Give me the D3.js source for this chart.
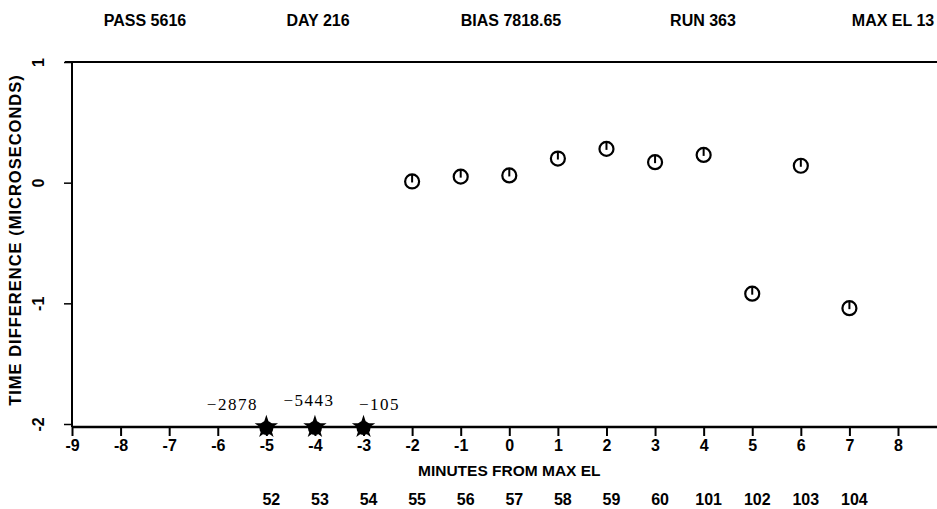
<!DOCTYPE html>
<html>
<head>
<meta charset="utf-8">
<script src="https://cdn.jsdelivr.net/npm/d3@7"></script>
<style>
  body { margin: 0; background: #fff; }
  svg { display: block; }
  .hdr, .ax text, .lbl { font-family: "Liberation Sans Narrow", "Arial Narrow", "Liberation Sans", sans-serif; font-weight: bold; }
</style>
</head>
<body>
<svg width="937" height="509"></svg>
<script>
// data
const minutes = [-2, -1, 0, 1, 2, 3, 4, 5, 6, 7]
const timeDiff = [0.01, 0.05, 0.06, 0.2, 0.28, 0.17, 0.23, -0.92, 0.14, -1.04]

// points off the bottom of the scale, value shown as text
const offMinutes = [-5, -4, -3]
const offValues = [-2878, -5443, -105]

// minute-of-hour row under the axis
const clockMinutes = [-5, -4, -3, -2, -1, 0, 1, 2, 3, 4, 5, 6, 7]
const clockLabels = ["52", "53", "54", "55", "56", "57", "58", "59", "60", "101", "102", "103", "104"]

const xTicks = d3.range(-9, 9)
const yTicks = [1, 0, -1, -2]

const header = [
  { text: "PASS 5616", x: 145 },
  { text: "DAY 216", x: 318 },
  { text: "BIAS 7818.65", x: 511 },
  { text: "RUN 363", x: 703 },
  { text: "MAX EL 13", x: 893 }
]

const svg = d3.select("svg")

const x = d3.scaleLinear().domain([-9, 8]).range([72, 898])
const y = d3.scaleLinear().domain([-2, 1]).range([424, 62])
const axisY = 427

// header line
svg.selectAll(".hdr")
  .data(header)
  .join("text")
  .attr("class", "hdr")
  .attr("x", d => d.x)
  .attr("y", 26)
  .attr("text-anchor", "middle")
  .attr("font-size", 16)
  .text(d => d.text)

// frame: top line
svg.append("line")
  .attr("x1", 65).attr("x2", 937)
  .attr("y1", y(1)).attr("y2", y(1))
  .attr("stroke", "#000").attr("stroke-width", 2)

// y axis
const yAxis = svg.append("g")
  .attr("class", "ax")
  .attr("transform", `translate(${x(-9)},0)`)
  .call(d3.axisLeft(y).tickValues(yTicks).tickSize(8).tickFormat(d => String(d)))
yAxis.select(".domain").attr("d", `M0,${y(1)}V${axisY}`).attr("stroke-width", 2)
yAxis.selectAll(".tick line").attr("stroke-width", 1.5)
yAxis.selectAll(".tick text")
  .attr("font-size", 16)
  .attr("x", 0).attr("dy", 0)
  .attr("text-anchor", "middle")
  .attr("transform", "translate(-32,0) rotate(-90)")
  .attr("dominant-baseline", "middle")

svg.append("text")
  .attr("class", "lbl")
  .attr("transform", "translate(21,240) rotate(-90)")
  .attr("text-anchor", "middle")
  .attr("font-size", 16.5)
  .attr("letter-spacing", 1)
  .text("TIME DIFFERENCE (MICROSECONDS)")

// x axis
const xAxis = svg.append("g")
  .attr("class", "ax")
  .attr("transform", `translate(0,${axisY})`)
  .call(d3.axisBottom(x).tickValues(xTicks).tickSize(9).tickFormat(d => String(d)))
xAxis.select(".domain").attr("d", `M${x(-9)},0H937`).attr("stroke-width", 2.5)
xAxis.selectAll(".tick line").attr("stroke-width", 2)
xAxis.selectAll(".tick text").attr("font-size", 16).attr("y", 13)

svg.append("text")
  .attr("class", "lbl")
  .attr("x", x(0)).attr("y", 476)
  .attr("text-anchor", "middle")
  .attr("font-size", 15.5)
  .text("MINUTES FROM MAX EL")

svg.selectAll(".clk")
  .data(clockMinutes)
  .join("text")
  .attr("class", "lbl clk")
  .attr("x", d => x(d) + 5)
  .attr("y", 505)
  .attr("text-anchor", "middle")
  .attr("font-size", 16)
  .text((d, i) => clockLabels[i])

// circle markers with a small tick on top
const pts = svg.append("g")
  .selectAll("g")
  .data(minutes)
  .join("g")
  .attr("transform", (d, i) => `translate(${x(d)},${y(timeDiff[i])})`)
pts.append("circle")
  .attr("r", 7)
  .attr("fill", "none")
  .attr("stroke", "#000")
  .attr("stroke-width", 2.2)
pts.append("line")
  .attr("x1", 0).attr("x2", 0)
  .attr("y1", -7).attr("y2", 1)
  .attr("stroke", "#000")
  .attr("stroke-width", 2)

// off-scale markers at the bottom
const off = svg.append("g")
  .selectAll("g")
  .data(offMinutes)
  .join("g")
  .attr("transform", d => `translate(${x(d)},${axisY})`)
off.append("path")
  .attr("d", d3.symbol(d3.symbolStar, 170))
  .attr("fill", "#000")
off.append("circle")
  .attr("r", 7)
  .attr("cy", 1)
  .attr("fill", "#000")

svg.selectAll(".offlbl")
  .data(offMinutes)
  .join("text")
  .attr("class", "offlbl")
  .attr("x", d => x(d) - (d === -5 ? 34 : d === -4 ? 6 : -16))
  .attr("y", (d, i) => i === 1 ? 406 : 410)
  .attr("text-anchor", "middle")
  .attr("font-family", "'Liberation Serif', 'DejaVu Serif', serif")
  .attr("font-size", 17)
  .attr("letter-spacing", 1.5)
  .text((d, i) => "\u2212" + Math.abs(offValues[i]))
</script>
</body>
</html>
